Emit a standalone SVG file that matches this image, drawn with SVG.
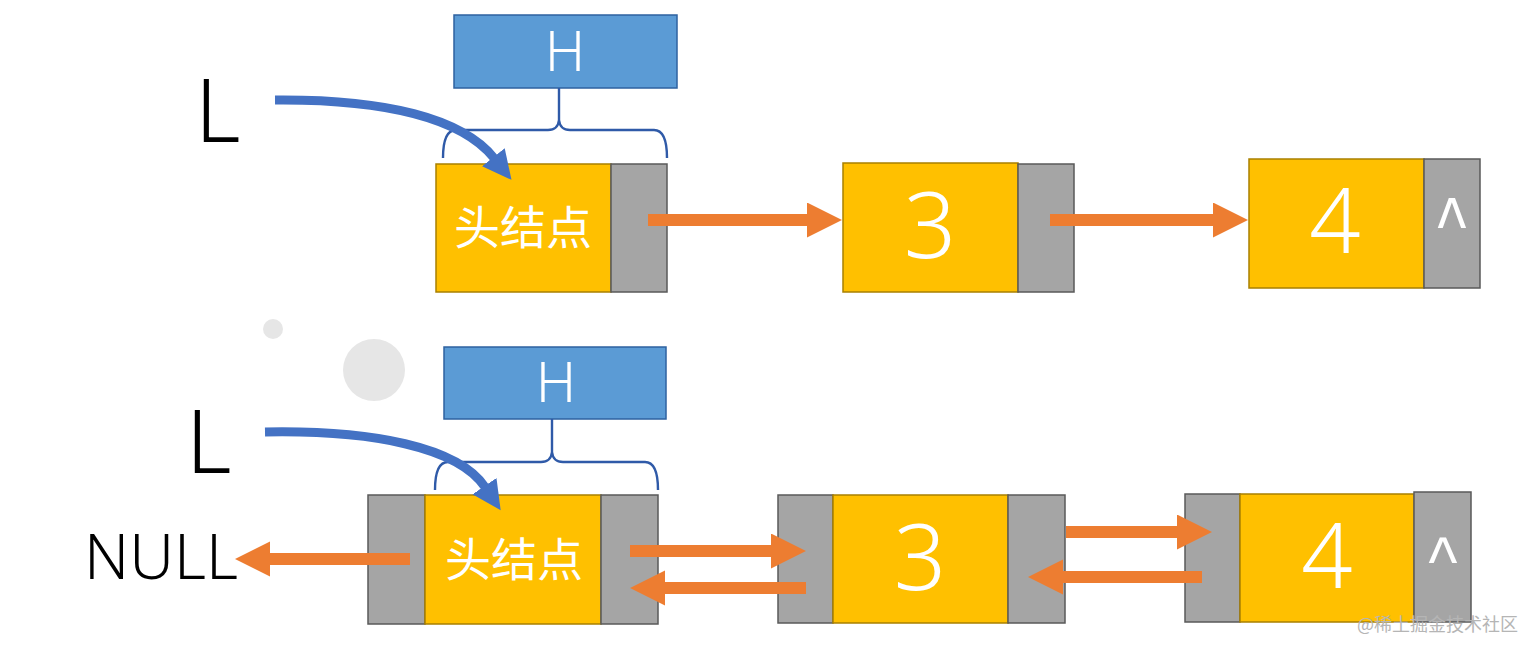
<svg xmlns="http://www.w3.org/2000/svg" width="1537" height="652" viewBox="0 0 1537 652">
<defs>
<style>
.hbox{fill:#5B9BD5;stroke:#2E62A0;stroke-width:1.5}
.yel{fill:#FFC000;stroke:#A98000;stroke-width:1.5}
.gry{fill:#A5A5A5;stroke:#5A5A5A;stroke-width:1.5}
.brace{fill:none;stroke:#2F5AA8;stroke-width:2.4}
.oarr{stroke:#ED7D31;stroke-width:12;fill:none;marker-end:url(#oh)}
.barr{stroke:#4472C4;stroke-width:9;fill:none;marker-end:url(#bh)}
.wt{fill:#FFFFFF;font-family:"Noto Sans","Liberation Sans",sans-serif;text-anchor:middle;font-weight:300}
.cj{fill:#FFFFFF;font-family:"Noto Sans CJK SC","Noto Sans",sans-serif;text-anchor:middle;font-size:46px}
.bk{fill:#000000;font-family:"Noto Sans","Liberation Sans",sans-serif;font-weight:300}
.car{fill:#FFFFFF;font-family:"Liberation Sans",sans-serif;text-anchor:middle;font-size:56px}
</style>
<marker id="oh" markerUnits="userSpaceOnUse" markerWidth="36" markerHeight="36" refX="1" refY="17.5" orient="auto" viewBox="0 0 36 36">
<path d="M0,0 L35,17.5 L0,35 z" fill="#ED7D31"/>
</marker>
<marker id="bh" markerUnits="userSpaceOnUse" markerWidth="30" markerHeight="30" refX="1" refY="14.5" orient="auto" viewBox="0 0 30 30">
<path d="M0,0 L29,14.5 L0,29 z" fill="#4472C4"/>
</marker>
</defs>
<rect width="1537" height="652" fill="#FFFFFF"/>

<g id="decor">
<circle cx="273" cy="329" r="10" fill="#E6E6E6"/>
<circle cx="374" cy="370" r="31" fill="#E6E6E6"/>
</g>

<!-- Top row -->
<g id="top-L"><text class="bk" x="195" y="142" font-size="88">L</text></g>
<g id="top-H">
<rect class="hbox" x="454" y="15" width="223" height="73"/>
<text class="wt" x="565" y="71" font-size="56">H</text>
</g>
<g id="top-brace">
<path class="brace" d="M443,158 Q443,130 456,130 L548,130 Q558,130 559,120 Q560,130 570,130 L654,130 Q667,130 667,158 M559,120 L559,88"/>
</g>
<g id="top-head">
<rect class="yel" x="436" y="164" width="175" height="128"/>
<rect class="gry" x="611" y="164" width="56" height="128"/>
<text class="cj" x="523" y="244">头结点</text>
</g>
<g id="top-n3">
<rect class="yel" x="843" y="163" width="175" height="129"/>
<rect class="gry" x="1018" y="164" width="56" height="128"/>
<text class="wt" x="930" y="258" font-size="92">3</text>
</g>
<g id="top-n4">
<rect class="yel" x="1249" y="159" width="175" height="129"/>
<rect class="gry" x="1424" y="159" width="56" height="129"/>
<text class="wt" x="1335" y="253" font-size="90">4</text>
<text class="car" transform="translate(1452,197) scale(1.1,1.5)" x="0" y="38.5">^</text>
</g>

<!-- Bottom row -->
<g id="bot-L"><text class="bk" x="186" y="473" font-size="88">L</text></g>
<g id="bot-NULL"><text class="bk" x="84" y="579" font-size="62">NULL</text></g>
<g id="bot-H">
<rect class="hbox" x="444" y="347" width="222" height="72"/>
<text class="wt" x="556" y="402" font-size="56">H</text>
</g>
<g id="bot-brace">
<path class="brace" d="M435,490 Q435,462 448,462 L541,462 Q551,462 552,452 Q553,462 563,462 L645,462 Q658,462 658,490 M552,452 L552,419"/>
</g>
<g id="bot-head">
<rect class="gry" x="368" y="495" width="57" height="129"/>
<rect class="yel" x="425" y="495" width="176" height="129"/>
<rect class="gry" x="601" y="495" width="57" height="129"/>
<text class="cj" x="514" y="576">头结点</text>
</g>
<g id="bot-n3">
<rect class="gry" x="778" y="495" width="55" height="128"/>
<rect class="yel" x="833" y="495" width="175" height="128"/>
<rect class="gry" x="1008" y="495" width="57" height="128"/>
<text class="wt" x="920" y="590" font-size="92">3</text>
</g>
<g id="bot-n4">
<rect class="gry" x="1185" y="494" width="55" height="128"/>
<rect class="yel" x="1240" y="494" width="174" height="128"/>
<rect class="gry" x="1414" y="492" width="57" height="130"/>
<text class="wt" x="1327" y="588" font-size="90">4</text>
<text class="car" transform="translate(1443,538) scale(1.1,1.25)" x="0" y="38.5">^</text>
</g>

<g id="connectors">
<path class="barr" d="M275,100 C385,99 462,118 494,158"/>
<line class="oarr" x1="648" y1="220" x2="808" y2="220"/>
<line class="oarr" x1="1050" y1="220" x2="1214" y2="220"/>
<path class="barr" d="M265,432 C372,430 458,447 485,487"/>
<line class="oarr" x1="410" y1="559" x2="269" y2="559"/>
<line class="oarr" x1="630" y1="551" x2="772" y2="551"/>
<line class="oarr" x1="806" y1="588" x2="664" y2="588"/>
<line class="oarr" x1="1066" y1="532" x2="1178" y2="532"/>
<line class="oarr" x1="1202" y1="577" x2="1062" y2="577"/>
</g>

<g id="watermark">
<text x="1357" y="631" font-size="18" fill="#B5B5B5" font-family="Noto Sans CJK SC, Noto Sans, sans-serif">@稀土掘金技术社区</text>
</g>
</svg>
